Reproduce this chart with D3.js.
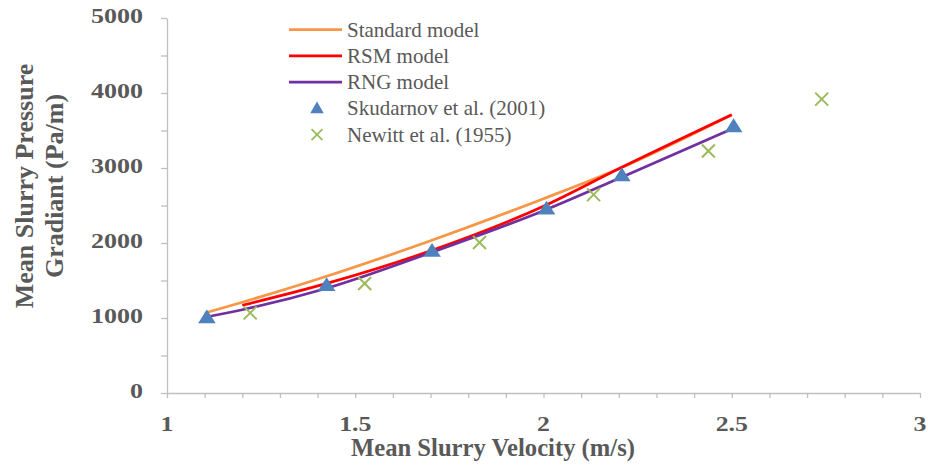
<!DOCTYPE html>
<html>
<head>
<meta charset="utf-8">
<script src="https://cdn.jsdelivr.net/npm/d3@7"></script>
<style>
  html, body { margin: 0; padding: 0; background: #fff; }
  svg { display: block; }
  text { font-family: "Liberation Serif", "Times New Roman", serif; fill: #595959; }
</style>
</head>
<body>
<svg id="chart" width="928" height="466"></svg>
<script>
// ---- data ----
const standardV = [1.1, 1.2, 1.42, 1.7, 2.0, 2.2, 2.5];
const standardP = [1065, 1210, 1550, 2030, 2590, 2990, 3710];
const rsmV = [1.2, 1.42, 1.7, 2.0, 2.2, 2.5];
const rsmP = [1170, 1455, 1895, 2490, 2990, 3710];
const rngV = [1.1, 1.2, 1.42, 1.7, 2.0, 2.2, 2.5];
const rngP = [1010, 1110, 1390, 1870, 2430, 2860, 3520];
const skudV = [1.106, 1.424, 1.704, 2.008, 2.208, 2.505];
const skudP = [992, 1421, 1877, 2440, 2886, 3539];
const newittV = [1.221, 1.525, 1.830, 2.133, 2.438, 2.739];
const newittP = [1068, 1461, 2006, 2645, 3226, 3918];
const xTickLabels = [1, 1.5, 2, 2.5, 3];
const yTickLabels = [0, 1000, 2000, 3000, 4000, 5000];
const legendLabels = ["Standard model", "RSM model", "RNG model", "Skudarnov et al. (2001)", "Newitt et al. (1955)"];
const xTitle = "Mean Slurry Velocity (m/s)";
const yTitle = ["Mean Slurry Pressure", "Gradiant (Pa/m)"];

// ---- setup ----
const svg = d3.select("#chart");
const x = d3.scaleLinear().domain([1, 3]).range([167, 920]);
const y = d3.scaleLinear().domain([0, 5000]).range([393, 18]);
const axisColor = "#bfbfbf";
const colors = { standard: "#f79646", rsm: "#ff0000", rng: "#7030a0", skud: "#4f81bd", newitt: "#9bbb59" };

// axes
const xAxis = d3.axisBottom(x).tickValues(d3.range(1, 3.0001, 0.1)).tickSize(5).tickSizeOuter(0).tickFormat("");
const gx = svg.append("g").attr("transform", `translate(0,${y(0)})`).call(xAxis);
const yAxis = d3.axisLeft(y).tickValues(d3.range(0, 5001, 500)).tickSize(6).tickSizeOuter(0).tickFormat("");
const gy = svg.append("g").attr("transform", `translate(${x(1)},0)`).call(yAxis);
[gx, gy].forEach(g => {
  g.selectAll("path.domain").attr("stroke", axisColor).attr("stroke-width", 1.3);
  g.selectAll(".tick line").attr("stroke", axisColor).attr("stroke-width", 1.3);
});

function stretchedText(parent, tx, ty, sx, str, opts) {
  return parent.append("text")
    .attr("transform", `translate(${tx},${ty}) scale(${sx},1)`)
    .attr("text-anchor", opts.anchor || "start")
    .attr("font-size", opts.size)
    .attr("font-weight", opts.weight || "normal")
    .text(str);
}

// tick labels
yTickLabels.forEach(v => {
  stretchedText(svg, 143, y(v) + 5, 1.24, String(v), { anchor: "end", size: 21, weight: "bold" });
});
xTickLabels.forEach(v => {
  stretchedText(svg, x(v), 431, 1.2, String(v), { anchor: "middle", size: 21.5, weight: "bold" });
});

// axis titles
svg.append("text")
  .attr("x", 493).attr("y", 456)
  .attr("text-anchor", "middle")
  .attr("font-size", 25).attr("font-weight", "bold")
  .attr("textLength", 284).attr("lengthAdjust", "spacingAndGlyphs")
  .text(xTitle);
const yt = svg.append("g").attr("transform", "translate(0,186) rotate(-90)");
yTitle.forEach((s, i) => {
  yt.append("text").attr("x", 0).attr("y", 33 + i * 30)
    .attr("text-anchor", "middle").attr("font-size", 26).attr("font-weight", "bold")
    .text(s);
});

// lines
const line = d3.line().x(d => x(d[0])).y(d => y(d[1])).curve(d3.curveMonotoneX);
const zip = (a, b) => a.map((v, i) => [v, b[i]]);
const plot = svg.append("g");
plot.append("path").datum(zip(standardV, standardP)).attr("d", line)
  .attr("fill", "none").attr("stroke", colors.standard).attr("stroke-width", 2.75);
plot.append("path").datum(zip(rsmV, rsmP)).attr("d", line)
  .attr("fill", "none").attr("stroke", colors.rsm).attr("stroke-width", 2.75);
plot.append("path").datum(zip(rngV, rngP)).attr("d", line)
  .attr("fill", "none").attr("stroke", colors.rng).attr("stroke-width", 2.75);

// markers
const tri = d3.symbol().type(d3.symbolTriangle).size(115);
plot.selectAll("path.skud").data(zip(skudV, skudP)).join("path").attr("class", "skud")
  .attr("d", tri).attr("transform", d => `translate(${x(d[0])},${y(d[1])}) scale(1.08,0.98)`)
  .attr("fill", colors.skud);
const cr = 6.5;
const crossG = plot.selectAll("g.newitt").data(zip(newittV, newittP)).join("g").attr("class", "newitt")
  .attr("transform", d => `translate(${x(d[0])},${y(d[1])})`);
crossG.append("line").attr("x1", -cr).attr("y1", -cr).attr("x2", cr).attr("y2", cr)
  .attr("stroke", colors.newitt).attr("stroke-width", 2);
crossG.append("line").attr("x1", -cr).attr("y1", cr).attr("x2", cr).attr("y2", -cr)
  .attr("stroke", colors.newitt).attr("stroke-width", 2);

// legend
const legend = svg.append("g");
const legendY = i => 36.5 + i * 26.3;
const legendColors = [colors.standard, colors.rsm, colors.rng];
legendLabels.forEach((lbl, i) => {
  const cy = legendY(i) - 7;
  if (i < 3) {
    legend.append("line").attr("x1", 289).attr("x2", 342).attr("y1", cy).attr("y2", cy)
      .attr("stroke", legendColors[i]).attr("stroke-width", 2.75);
  } else if (i === 3) {
    legend.append("path").attr("d", d3.symbol().type(d3.symbolTriangle).size(80))
      .attr("transform", `translate(317,${cy + 1})`).attr("fill", colors.skud);
  } else {
    const r = 5.5;
    legend.append("line").attr("x1", 317 - r).attr("y1", cy - r).attr("x2", 317 + r).attr("y2", cy + r)
      .attr("stroke", colors.newitt).attr("stroke-width", 1.8);
    legend.append("line").attr("x1", 317 - r).attr("y1", cy + r).attr("x2", 317 + r).attr("y2", cy - r)
      .attr("stroke", colors.newitt).attr("stroke-width", 1.8);
  }
  legend.append("text").attr("x", 347).attr("y", legendY(i))
    .attr("font-size", 21).text(lbl);
});
</script>
</body>
</html>
